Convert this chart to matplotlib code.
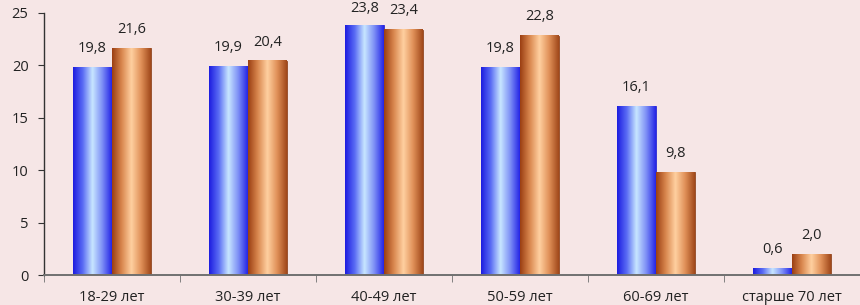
import numpy as np
import matplotlib.pyplot as plt
from matplotlib.colors import LinearSegmentedColormap

categories = ['18-29 лет', '30-39 лет', '40-49 лет', '50-59 лет', '60-69 лет', 'старше 70 лет']
series_a = [19.8, 19.9, 23.8, 19.8, 16.1, 0.6]
series_b = [21.6, 20.4, 23.4, 22.8, 9.8, 2.0]
yticks = [0, 5, 10, 15, 20, 25]

plt.rcParams['font.family'] = ['Open Sans', 'DejaVu Sans']
bg = '#f6e6e6'

fig = plt.figure(figsize=(8.6, 3.05), dpi=100, facecolor=bg)
ax = fig.add_axes([0.051, 0.098, 0.949, 0.86], facecolor=bg)

x = np.arange(len(categories))
w = 0.285
bars_a = ax.bar(x - w / 2, series_a, w, color='none', edgecolor='#1a1ad0', linewidth=0.6)
bars_b = ax.bar(x + w / 2, series_b, w, color='none', edgecolor='#8a3a12', linewidth=0.6)

cmap_a = LinearSegmentedColormap.from_list('a', ['#1c1ce0', '#5a6cf4', '#c8e6ff', '#7e90f6', '#2424e6'])
cmap_b = LinearSegmentedColormap.from_list('b', ['#9a3e12', '#d9874e', '#ffd0a0', '#e09058', '#a0481a'])
grad = np.linspace(0, 1, 256).reshape(1, -1)
for bars, cm in ((bars_a, cmap_a), (bars_b, cmap_b)):
    for b in bars:
        x0, h = b.get_x(), b.get_height()
        ax.imshow(grad, cmap=cm, aspect='auto', extent=(x0, x0 + b.get_width(), 0, h),
                  zorder=1.5, interpolation='bilinear')

# value labels, comma as decimal separator, kept inside the figure
for bars, vals in ((bars_a, series_a), (bars_b, series_b)):
    for b, v in zip(bars, vals):
        ax.text(b.get_x() + b.get_width() / 2, min(v + 1.1, 24.65), f'{v:.1f}'.replace('.', ','),
                ha='center', va='bottom', fontsize=10.5, color='#222222', clip_on=False)

ax.set_xlim(-0.5, len(categories) - 0.5)
ax.set_ylim(0, 25)
ax.set_yticks(yticks)
ax.set_yticklabels([str(t) for t in yticks])
ax.set_xticks(x)
ax.set_xticklabels(categories)
ax.set_xticks(np.arange(len(categories) + 1) - 0.5, minor=True)
ax.tick_params(axis='x', which='major', length=0, pad=11, labelsize=10.5, colors='#222222')
ax.tick_params(axis='x', which='minor', length=5, direction='out', color='#707070')
ax.tick_params(axis='y', length=4, direction='out', labelsize=10.5, pad=7)
ax.tick_params(axis='y', colors='#333333', labelcolor='#222222')
for s in ('top', 'right'):
    ax.spines[s].set_visible(False)
ax.spines['left'].set_color('#333333')
ax.spines['bottom'].set_color('#707070')
ax.spines['left'].set_linewidth(1.0)
ax.spines['bottom'].set_linewidth(1.4)

fig.savefig('out.png', dpi=100, facecolor=bg)
